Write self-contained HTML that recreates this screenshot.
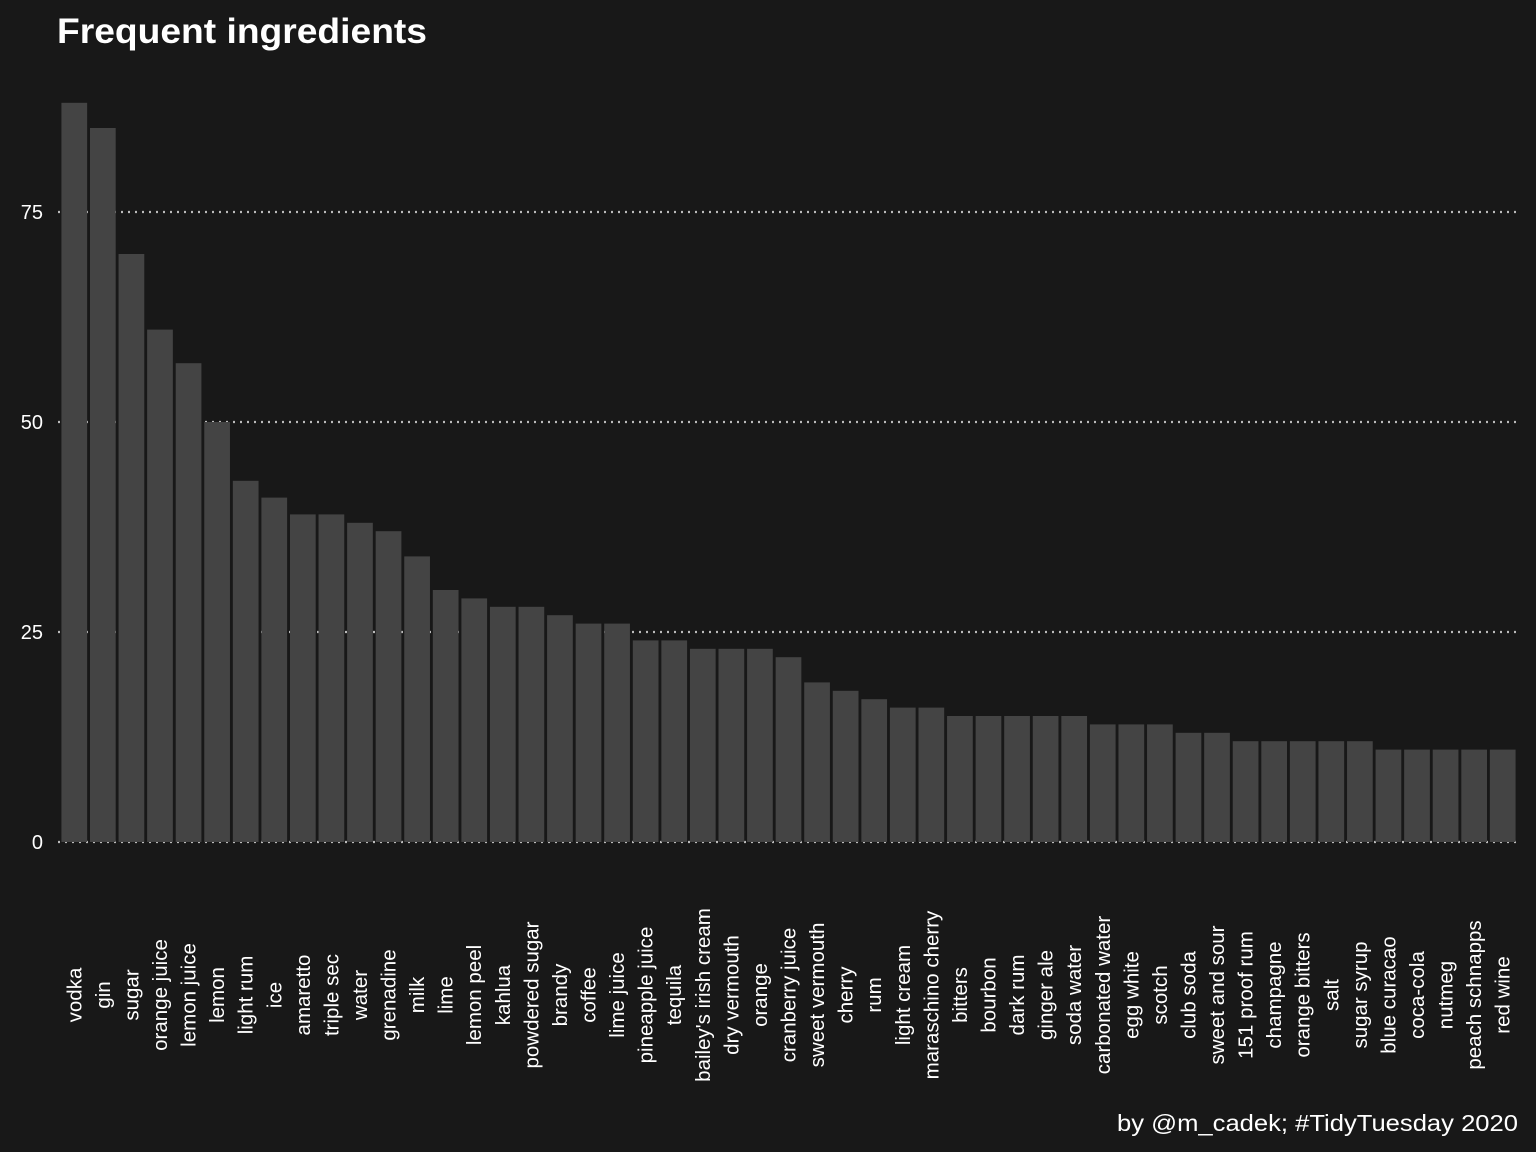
<!DOCTYPE html>
<html><head><meta charset="utf-8"><style>
html,body{margin:0;padding:0;background:#181818;}
svg{display:block;font-family:"Liberation Sans",sans-serif;}
</style></head><body>
<svg id="chart" width="1536" height="1152" viewBox="0 0 1536 1152">
<rect width="1536" height="1152" fill="#181818"/>
<text x="57" y="43" fill="#ffffff" font-size="35" font-weight="bold" textLength="370" lengthAdjust="spacingAndGlyphs">Frequent ingredients</text>
<text x="1518" y="1131" fill="#ffffff" font-size="23" text-anchor="end" textLength="401" lengthAdjust="spacingAndGlyphs">by @m_cadek; #TidyTuesday 2020</text>
<g id="grid"></g><g id="bars"></g><g id="xlabels"></g><g id="ylabels"></g>
</svg>
<script>
const categories = ["vodka","gin","sugar","orange juice","lemon juice","lemon","light rum","ice","amaretto","triple sec","water","grenadine","milk","lime","lemon peel","kahlua","powdered sugar","brandy","coffee","lime juice","pineapple juice","tequila","bailey's irish cream","dry vermouth","orange","cranberry juice","sweet vermouth","cherry","rum","light cream","maraschino cherry","bitters","bourbon","dark rum","ginger ale","soda water","carbonated water","egg white","scotch","club soda","sweet and sour","151 proof rum","champagne","orange bitters","salt","sugar syrup","blue curacao","coca-cola","nutmeg","peach schnapps","red wine"];
const counts = [88,85,70,61,57,50,43,41,39,39,38,37,34,30,29,28,28,27,26,26,24,24,23,23,23,22,19,18,17,16,16,15,15,15,15,15,14,14,14,13,13,12,12,12,12,12,11,11,11,11,11];
const yTicks = [0,25,50,75];
const NS="http://www.w3.org/2000/svg";
const x0=60, x1=1517, y0=842, pxPerUnit=8.4;
const step=(x1-x0)/categories.length, bw=step*0.9;
const xPos=i=>x0+i*step+(step-bw)/2;
const yPos=v=>y0-v*pxPerUnit;
const grid=document.getElementById('grid'),bars=document.getElementById('bars'),xl=document.getElementById('xlabels'),yl=document.getElementById('ylabels');
yTicks.forEach(t=>{
  const l=document.createElementNS(NS,'line');
  
  
  l.setAttribute('x1',58);l.setAttribute('x2',1516);l.setAttribute('y1',yPos(t));l.setAttribute('y2',yPos(t));
  l.setAttribute('stroke','#bbbbbb');l.setAttribute('stroke-width',2.2);l.setAttribute('stroke-dasharray','2 5');
  grid.appendChild(l);
  const tx=document.createElementNS(NS,'text');
  
  
  tx.setAttribute('x',43);tx.setAttribute('y',yPos(t)+7);tx.setAttribute('text-anchor','end');
  tx.setAttribute('fill','#ffffff');tx.setAttribute('font-size',20);tx.textContent=t;
  yl.appendChild(tx);
});
categories.forEach((c,i)=>{
  const r=document.createElementNS(NS,'rect');
  
  
  r.setAttribute('x',xPos(i));r.setAttribute('width',bw);
  r.setAttribute('y',yPos(counts[i]));r.setAttribute('height',counts[i]*pxPerUnit);
  r.setAttribute('fill','#444444');
  bars.appendChild(r);
  const t=document.createElementNS(NS,'text');
  
  
  const cx=xPos(i)+bw/2+7;
  t.setAttribute('transform','translate('+cx+',995) rotate(-90)');
  t.setAttribute('text-anchor','middle');t.setAttribute('fill','#ffffff');t.setAttribute('font-size',20.5);
  t.textContent=c;
  xl.appendChild(t);
});
</script>
</body></html>
